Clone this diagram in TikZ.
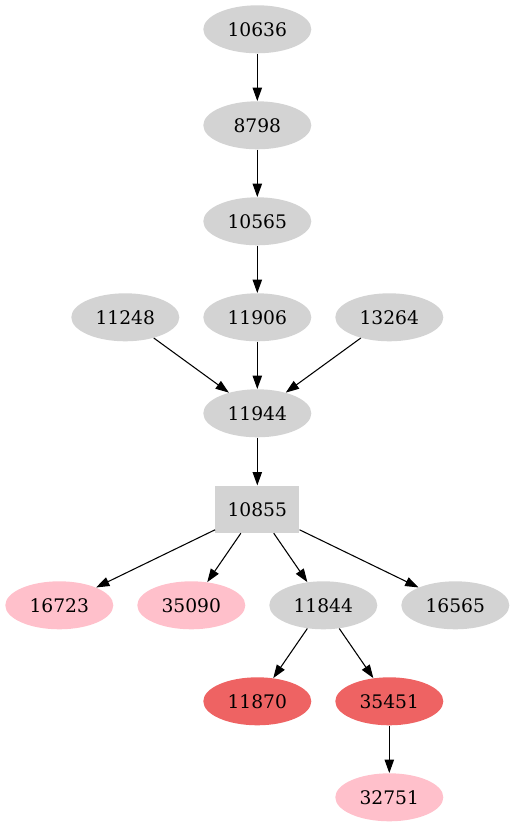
\documentclass[tikz,border=0pt]{standalone}
\usepackage{fontspec}
\setmainfont{DejaVu Serif}
\usetikzlibrary{shapes.geometric,arrows.meta}
\definecolor{ggray}{RGB}{211,211,211}
\definecolor{gpink}{RGB}{255,192,203}
\definecolor{gred}{RGB}{238,99,99}
\begin{document}
\begin{tikzpicture}[x=0.75pt,y=-0.75pt,
  base/.style={font=\fontsize{14pt}{16pt}\selectfont, inner sep=0pt},
  ell/.style={base, ellipse, minimum width=81pt, minimum height=36pt, fill=ggray},
  pinkell/.style={ell, fill=gpink},
  redell/.style={ell, fill=gred},
  boxnode/.style={base, rectangle, minimum width=63pt, minimum height=35.5pt, fill=ggray},
  edge/.style={-{Triangle[length=10pt,width=7pt]}, line width=0.8pt, black}]
\useasboundingbox (0,0) rectangle (514,827);
\node[ell] (n10636) at (257.3,29.3) {10636};
\node[ell] (n8798) at (257.3,125.3) {8798};
\node[ell] (n10565) at (257.3,221.3) {10565};
\node[ell] (n11248) at (125.3,317.3) {11248};
\node[ell] (n11906) at (257.3,317.3) {11906};
\node[ell] (n13264) at (389.3,317.3) {13264};
\node[ell] (n11944) at (257.3,413.3) {11944};
\node[boxnode] (n10855) at (257.3,509.3) {10855};
\node[pinkell] (n16723) at (59.3,605.3) {16723};
\node[pinkell] (n35090) at (191.3,605.3) {35090};
\node[ell] (n11844) at (323.3,605.3) {11844};
\node[ell] (n16565) at (455.3,605.3) {16565};
\node[redell] (n11870) at (257.3,701.3) {11870};
\node[redell] (n35451) at (389.3,701.3) {35451};
\node[pinkell] (n32751) at (389.3,797.3) {32751};
\draw[edge] (n10636) -- (n8798);
\draw[edge] (n8798) -- (n10565);
\draw[edge] (n10565) -- (n11906);
\draw[edge] (n11248) -- (n11944);
\draw[edge] (n11906) -- (n11944);
\draw[edge] (n13264) -- (n11944);
\draw[edge] (n11944) -- (n10855);
\draw[edge] (n10855) -- (n16723);
\draw[edge] (n10855) -- (n35090);
\draw[edge] (n10855) -- (n11844);
\draw[edge] (n10855) -- (n16565);
\draw[edge] (n11844) -- (n11870);
\draw[edge] (n11844) -- (n35451);
\draw[edge] (n35451) -- (n32751);
\end{tikzpicture}
\end{document}
